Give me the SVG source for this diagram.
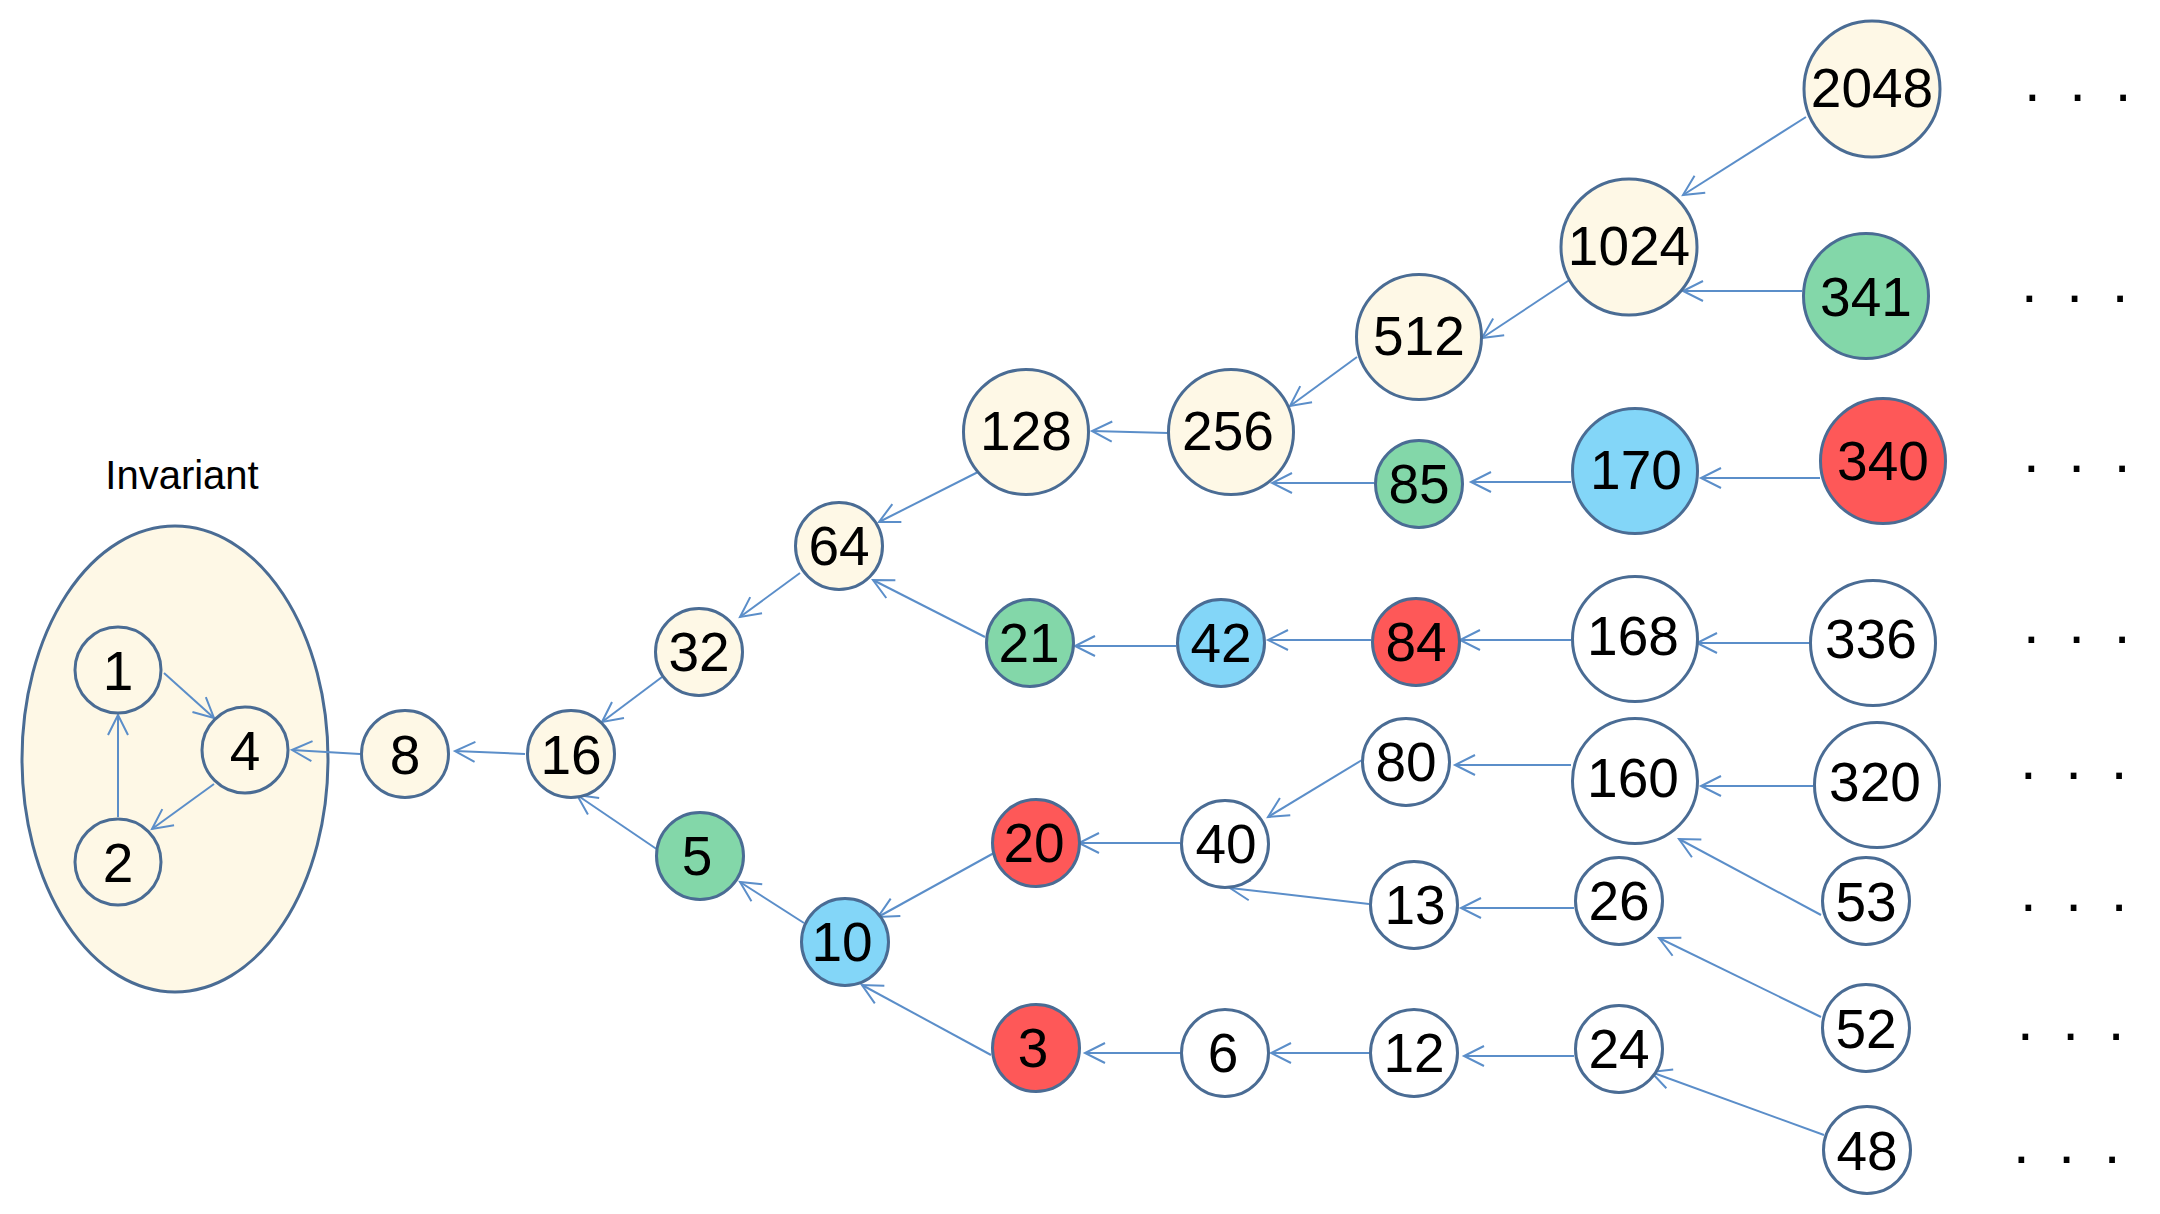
<svg xmlns="http://www.w3.org/2000/svg" width="2160" height="1214" viewBox="0 0 2160 1214">
<style>
.n{stroke:#4a6c94;stroke-width:3}
.cr{fill:#fef8e6}.gr{fill:#83d7a9}.bl{fill:#83d6f8}.rd{fill:#fe5858}.wh{fill:#ffffff}
.t{font-family:"Liberation Sans",Arial,Helvetica,sans-serif;font-size:55px;text-anchor:middle;fill:#000}
.lbl{font-family:"Liberation Sans",Arial,Helvetica,sans-serif;font-size:40px;text-anchor:middle;fill:#000}
.dots{font-family:"Liberation Sans",Arial,Helvetica,sans-serif;font-size:60px;letter-spacing:6px;fill:#000}
.e{stroke:#5b8ec9;stroke-width:2;fill:none;marker-end:url(#a)}
</style>
<defs>
<marker id="a" viewBox="-25 -15 30 30" markerWidth="30" markerHeight="30" refX="0" refY="0" orient="auto" markerUnits="userSpaceOnUse">
<path d="M-20,-10 L0,0 L-20,10" fill="none" stroke="#5b8ec9" stroke-width="2"/>
</marker>
</defs>
<rect width="2160" height="1214" fill="#ffffff"/>
<g id="invariant">
<ellipse cx="175" cy="759" rx="153" ry="233" fill="#fef8e6" stroke="#4a6c94" stroke-width="3"/>
<text class="lbl" x="182" y="489">Invariant</text>
</g>
<g id="connectors">
<line class="e" x1="164" y1="673" x2="214" y2="718"/>
<line class="e" x1="214" y1="784" x2="152" y2="829"/>
<line class="e" x1="118" y1="817" x2="118" y2="715"/>
<line class="e" x1="360" y1="754" x2="292" y2="750"/>
<line class="e" x1="525" y1="754" x2="455" y2="751"/>
<line class="e" x1="662" y1="677" x2="602" y2="722"/>
<line class="e" x1="800" y1="573" x2="740" y2="617"/>
<line class="e" x1="978" y1="472" x2="879" y2="522"/>
<line class="e" x1="985" y1="637" x2="873" y2="580"/>
<line class="e" x1="658" y1="850" x2="577" y2="795"/>
<line class="e" x1="804" y1="923" x2="740" y2="882"/>
<line class="e" x1="1003" y1="848" x2="878" y2="917"/>
<line class="e" x1="991" y1="1055" x2="862" y2="985"/>
<line class="e" x1="1180" y1="843" x2="1079" y2="843"/>
<line class="e" x1="1181" y1="1053" x2="1085" y2="1053"/>
<line class="e" x1="1369" y1="1053" x2="1271" y2="1053"/>
<line class="e" x1="1369" y1="904" x2="1230" y2="888"/>
<line class="e" x1="1362" y1="760" x2="1268" y2="817"/>
<line class="e" x1="1176" y1="646" x2="1075" y2="646"/>
<line class="e" x1="1371" y1="640" x2="1268" y2="640"/>
<line class="e" x1="1571" y1="640" x2="1460" y2="640"/>
<line class="e" x1="1168" y1="433" x2="1092" y2="431"/>
<line class="e" x1="1357" y1="357" x2="1290" y2="406"/>
<line class="e" x1="1574" y1="277" x2="1482" y2="338"/>
<line class="e" x1="1806" y1="117" x2="1683" y2="195"/>
<line class="e" x1="1802" y1="291" x2="1683" y2="291"/>
<line class="e" x1="1374" y1="483" x2="1272" y2="483"/>
<line class="e" x1="1571" y1="482" x2="1471" y2="482"/>
<line class="e" x1="1820" y1="478" x2="1701" y2="478"/>
<line class="e" x1="1809" y1="643" x2="1697" y2="643"/>
<line class="e" x1="1571" y1="765" x2="1455" y2="765"/>
<line class="e" x1="1813" y1="786" x2="1701" y2="786"/>
<line class="e" x1="1821" y1="915" x2="1679" y2="839"/>
<line class="e" x1="1574" y1="908" x2="1461" y2="908"/>
<line class="e" x1="1821" y1="1017" x2="1659" y2="938"/>
<line class="e" x1="1574" y1="1056" x2="1464" y2="1056"/>
<line class="e" x1="1824" y1="1135" x2="1651" y2="1072"/>
</g>
<g id="n1"><circle class="n cr" cx="118" cy="670" r="43"/><text class="t" x="118" y="690">1</text></g>
<g id="n4"><circle class="n cr" cx="245" cy="750" r="43"/><text class="t" x="245" y="770">4</text></g>
<g id="n2"><circle class="n cr" cx="118" cy="862" r="43"/><text class="t" x="118" y="882">2</text></g>
<g id="n8"><circle class="n cr" cx="405" cy="754" r="43.5"/><text class="t" x="405" y="774">8</text></g>
<g id="n16"><circle class="n cr" cx="571" cy="754" r="43.5"/><text class="t" x="571" y="774">16</text></g>
<g id="n32"><circle class="n cr" cx="699" cy="652" r="43.5"/><text class="t" x="699" y="671">32</text></g>
<g id="n64"><circle class="n cr" cx="839" cy="546" r="43.5"/><text class="t" x="839" y="565">64</text></g>
<g id="n128"><circle class="n cr" cx="1026" cy="432" r="62.5"/><text class="t" x="1026" y="450">128</text></g>
<g id="n256"><circle class="n cr" cx="1231" cy="432" r="62.5"/><text class="t" x="1228" y="450">256</text></g>
<g id="n512"><circle class="n cr" cx="1419" cy="337" r="62.5"/><text class="t" x="1419" y="355">512</text></g>
<g id="n1024"><circle class="n cr" cx="1629" cy="247" r="68"/><text class="t" x="1629" y="265">1024</text></g>
<g id="n2048"><circle class="n cr" cx="1872" cy="89" r="68"/><text class="t" x="1872" y="107">2048</text></g>
<g id="n341"><circle class="n gr" cx="1866" cy="296" r="62.5"/><text class="t" x="1866" y="316">341</text></g>
<g id="n85"><circle class="n gr" cx="1419" cy="484" r="43.5"/><text class="t" x="1419" y="503">85</text></g>
<g id="n170"><circle class="n bl" cx="1635" cy="471" r="62.5"/><text class="t" x="1636" y="489">170</text></g>
<g id="n340"><circle class="n rd" cx="1883" cy="461" r="62.5"/><text class="t" x="1883" y="480">340</text></g>
<g id="n21"><circle class="n gr" cx="1030" cy="643" r="43.5"/><text class="t" x="1029" y="662">21</text></g>
<g id="n42"><circle class="n bl" cx="1221" cy="643" r="43.5"/><text class="t" x="1221" y="662">42</text></g>
<g id="n84"><circle class="n rd" cx="1416" cy="642" r="43.5"/><text class="t" x="1416" y="661">84</text></g>
<g id="n168"><circle class="n wh" cx="1635" cy="639" r="62.5"/><text class="t" x="1633" y="655">168</text></g>
<g id="n336"><circle class="n wh" cx="1873" cy="643" r="62.5"/><text class="t" x="1871" y="658">336</text></g>
<g id="n5"><circle class="n gr" cx="700" cy="856" r="43.5"/><text class="t" x="697" y="875">5</text></g>
<g id="n10"><circle class="n bl" cx="845" cy="942" r="43.5"/><text class="t" x="842" y="961">10</text></g>
<g id="n20"><circle class="n rd" cx="1036" cy="843" r="43.5"/><text class="t" x="1034" y="862">20</text></g>
<g id="n40"><circle class="n wh" cx="1225" cy="844" r="43.5"/><text class="t" x="1226" y="863">40</text></g>
<g id="n80"><circle class="n wh" cx="1406" cy="762" r="43.5"/><text class="t" x="1406" y="781">80</text></g>
<g id="n160"><circle class="n wh" cx="1635" cy="781" r="62.5"/><text class="t" x="1633" y="797">160</text></g>
<g id="n320"><circle class="n wh" cx="1877" cy="785" r="62.5"/><text class="t" x="1875" y="801">320</text></g>
<g id="n13"><circle class="n wh" cx="1414" cy="905" r="43.5"/><text class="t" x="1415" y="924">13</text></g>
<g id="n26"><circle class="n wh" cx="1619" cy="901" r="43.5"/><text class="t" x="1619" y="920">26</text></g>
<g id="n53"><circle class="n wh" cx="1866" cy="901" r="43.5"/><text class="t" x="1866" y="921">53</text></g>
<g id="n3"><circle class="n rd" cx="1036" cy="1048" r="43.5"/><text class="t" x="1033" y="1067">3</text></g>
<g id="n6"><circle class="n wh" cx="1225" cy="1053" r="43.5"/><text class="t" x="1223" y="1072">6</text></g>
<g id="n12"><circle class="n wh" cx="1414" cy="1053" r="43.5"/><text class="t" x="1414" y="1072">12</text></g>
<g id="n24"><circle class="n wh" cx="1619" cy="1049" r="43.5"/><text class="t" x="1619" y="1068">24</text></g>
<g id="n52"><circle class="n wh" cx="1866" cy="1028" r="43.5"/><text class="t" x="1866" y="1048">52</text></g>
<g id="n48"><circle class="n wh" cx="1867" cy="1150" r="43.5"/><text class="t" x="1867" y="1170">48</text></g>
<g id="ellipses">
<text class="dots" x="2024" y="101">. . .</text>
<text class="dots" x="2021" y="302">. . .</text>
<text class="dots" x="2023" y="472">. . .</text>
<text class="dots" x="2023" y="643">. . .</text>
<text class="dots" x="2020" y="779">. . .</text>
<text class="dots" x="2020" y="911">. . .</text>
<text class="dots" x="2017" y="1040">. . .</text>
<text class="dots" x="2013" y="1163">. . .</text>
</g>
</svg>
